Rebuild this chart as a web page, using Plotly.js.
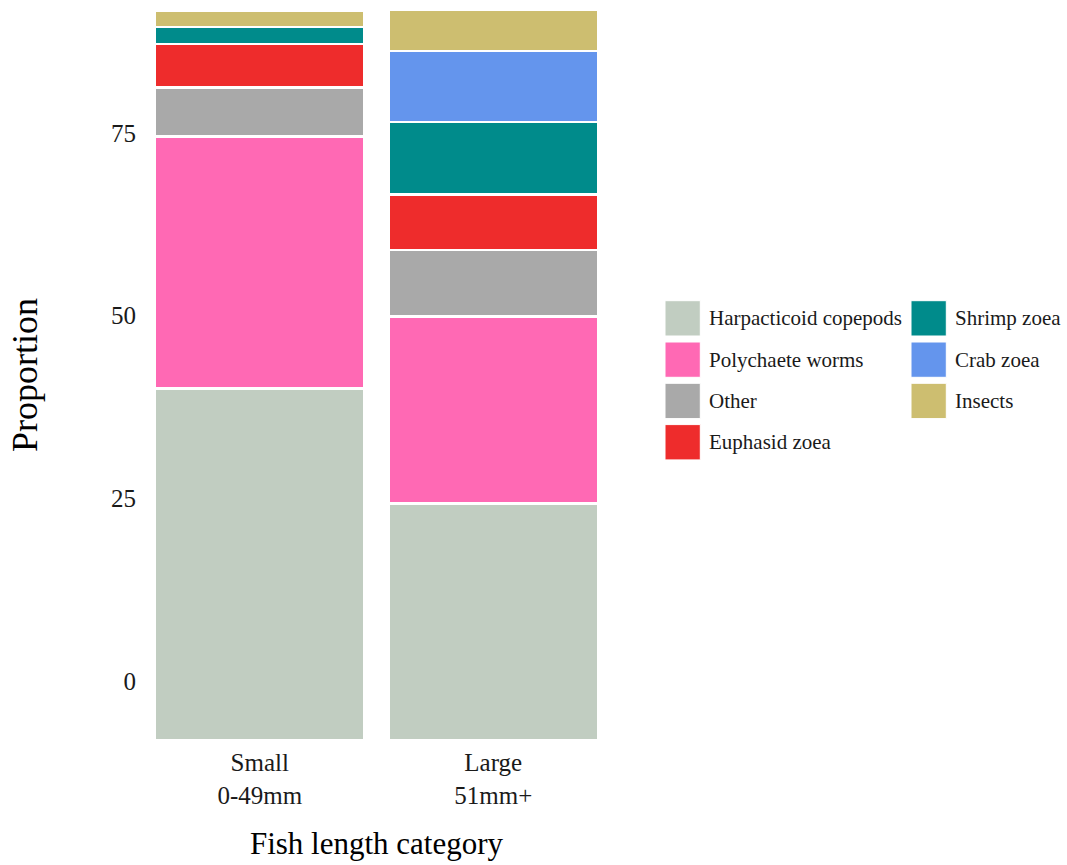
<!DOCTYPE html>
<html>
<head>
<meta charset="utf-8">
<script src="https://cdn.plot.ly/plotly-3.0.1.min.js"></script>
<style>html,body{margin:0;padding:0;background:#fff;}#chart{width:1067px;height:865px;}</style>
</head>
<body>
<div id="chart"></div>
<script>
// ---- data ----
const sizeCategories = ['Small', 'Large'];
const sizeRanges = ['0-49mm', '51mm+'];
const preyTypes = ['Harpacticoid copepods', 'Polychaete worms', 'Other', 'Euphasid zoea', 'Shrimp zoea', 'Crab zoea', 'Insects'];
const harpacticoid = [48.1, 32.4];
const polychaete = [34.5, 25.6];
const other = [6.7, 9.1];
const euphasid = [6.0, 7.6];
const shrimp = [2.3, 9.9];
const crab = [0.0, 9.7];
const insects = [2.3, 5.7];
const yTickLabels = [0, 25, 50, 75];
const yTickOffset = 8.1; // the reference's y labels sit shifted relative to the stack base

// ---- styling ----
const preyColors = ['#C1CDC1', '#FF69B4', '#A9A9A9', '#EE2C2C', '#008B8B', '#6495ED', '#CDBE70'];
const seriesValues = [harpacticoid, polychaete, other, euphasid, shrimp, crab, insects];
const FONT = 'Liberation Serif, Times New Roman, serif';
const W = 1067, H = 865;
const M = {l: 143, r: 457, t: 5, b: 120};
const PW = W - M.l - M.r, PH = H - M.t - M.b;
const px2x = p => (p - M.l) / PW;
const py2y = p => (H - M.b - p) / PH;

const xLabels = sizeCategories.map((c, i) => c + '<br>' + sizeRanges[i]);

const traces = preyTypes.map((name, k) => ({
  type: 'bar',
  name: name,
  x: xLabels,
  y: seriesValues[k],
  marker: {color: preyColors[k], line: {color: '#ffffff', width: 2.6}},
  showlegend: false,
  hoverinfo: 'x+y+name'
}));

// custom legend (large square keys as in the reference)
const shapes = [], annotations = [];
const perCol = 4;
const colX = [665, 911], rowTop = 300.7, rowStep = 41.3, key = 35.3;
preyTypes.forEach((name, k) => {
  const col = Math.floor(k / perCol), row = k % perCol;
  const x0 = colX[col], y0 = rowTop + row * rowStep;
  shapes.push({type: 'rect', xref: 'paper', yref: 'paper',
    x0: px2x(x0), x1: px2x(x0 + key), y0: py2y(y0 + key), y1: py2y(y0),
    fillcolor: preyColors[k], line: {color: '#ffffff', width: 1}});
  annotations.push({xref: 'paper', yref: 'paper', x: px2x(x0 + key + 7), y: py2y(y0 + key / 2),
    xanchor: 'left', yanchor: 'middle', showarrow: false, text: name,
    font: {family: FONT, size: 21, color: '#1a1a1a'}});
});

const layout = {
  width: W, height: H,
  margin: M,
  paper_bgcolor: '#ffffff', plot_bgcolor: '#ffffff',
  barmode: 'stack',
  bargap: 0.102,
  showlegend: false,
  font: {family: FONT, color: '#1a1a1a'},
  xaxis: {
    type: 'category', range: [-0.5, 1.5],
    showgrid: false, zeroline: false, showline: false, ticks: '',
    tickfont: {family: FONT, size: 25, color: '#1a1a1a'},
    title: {text: 'Fish length category', font: {family: FONT, size: 31, color: '#000'}, standoff: 24}
  },
  yaxis: {
    range: [-0.68, 100.62],
    showgrid: false, zeroline: false, showline: false, ticks: '',
    ticklabelstandoff: 6,
    tickvals: yTickLabels.map(v => v + yTickOffset),
    ticktext: yTickLabels.map(String),
    tickfont: {family: FONT, size: 25, color: '#1a1a1a'},
    title: {text: 'Proportion', font: {family: FONT, size: 36, color: '#000'}, standoff: 62}
  },
  shapes: shapes,
  annotations: annotations
};

Plotly.newPlot('chart', traces, layout, {displayModeBar: false, staticPlot: true});
</script>
</body>
</html>
